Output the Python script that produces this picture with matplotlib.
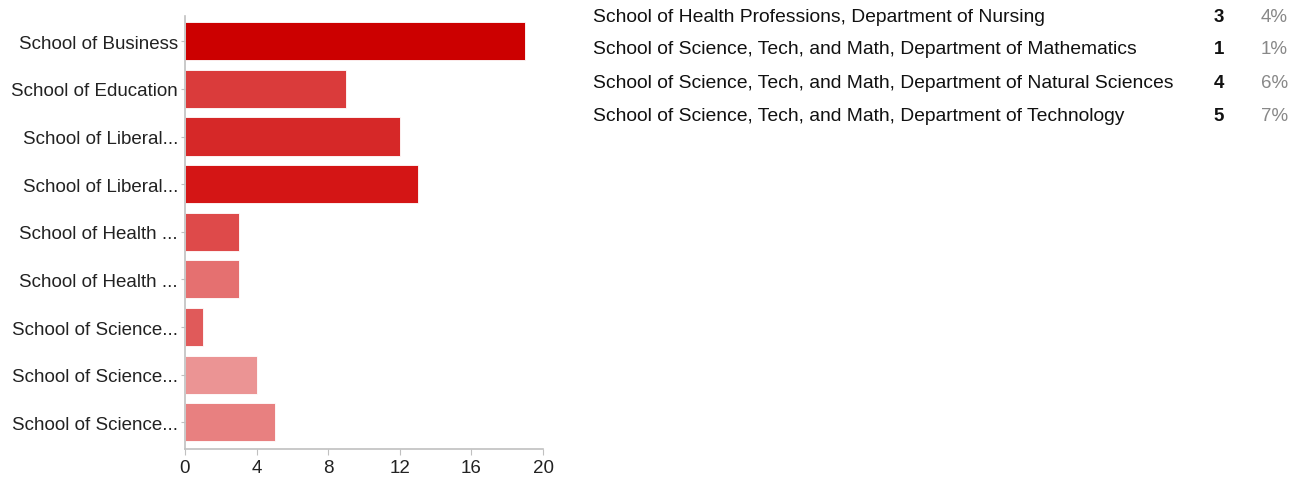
import matplotlib.pyplot as plt

plt.rcParams['font.family'] = ['Liberation Sans', 'DejaVu Sans']

# bar chart data
labels = ['School of Business', 'School of Education', 'School of Liberal...',
          'School of Liberal...', 'School of Health ...', 'School of Health ...',
          'School of Science...', 'School of Science...', 'School of Science...']
counts = [19, 9, 12, 13, 3, 3, 1, 4, 5]
colors = ['#cc0000', '#da3b3b', '#d62828', '#d41515', '#de4a4a',
          '#e57070', '#e05a5a', '#eb9494', '#e88080']

# summary rows on the right
row_names = ['School of Health Professions, Department of Nursing',
             'School of Science, Tech, and Math, Department of Mathematics',
             'School of Science, Tech, and Math, Department of Natural Sciences',
             'School of Science, Tech, and Math, Department of Technology']
row_counts = [3, 1, 4, 5]
row_pcts = ['4%', '1%', '6%', '7%']

W, H = 1308, 481
fig = plt.figure(figsize=(W / 100, H / 100), dpi=100)
ax = fig.add_axes([185 / W, 1 - 450 / H, (543 - 185) / W, (450 - 17) / H])

y = list(range(len(labels)))
ax.barh(y, counts, height=0.8, color=colors, edgecolor='white', linewidth=0.6)
ax.set_ylim(8.56, -0.53)
ax.set_xlim(0, 20)
ax.set_xticks([0, 4, 8, 12, 16, 20])
ax.set_yticks(y)
ax.set_yticklabels(labels)

for s in ['top', 'right']:
    ax.spines[s].set_visible(False)
for s in ['left', 'bottom']:
    ax.spines[s].set_color('#c0c0c0')
    ax.spines[s].set_linewidth(1.2)
ax.tick_params(axis='y', length=3, color='#c0c0c0', labelsize=13.5,
               labelcolor='#222222', pad=2)
ax.tick_params(axis='x', length=4, color='#c0c0c0', labelsize=13.5,
               labelcolor='#222222', pad=3, direction='out')

row_y = [18, 50, 83, 117]
for yy, name, c, p in zip(row_y, row_names, row_counts, row_pcts):
    fy = 1 - yy / H
    fig.text(593 / W, fy, name, fontsize=13.9, color='#111111', va='center', ha='left')
    fig.text(1224 / W, fy, str(c), fontsize=13.5, color='#111111', fontweight='bold',
             va='center', ha='right')
    fig.text(1288 / W, fy, p, fontsize=13.5, color='#888888', va='center', ha='right')

fig.savefig('out.png', dpi=100)
